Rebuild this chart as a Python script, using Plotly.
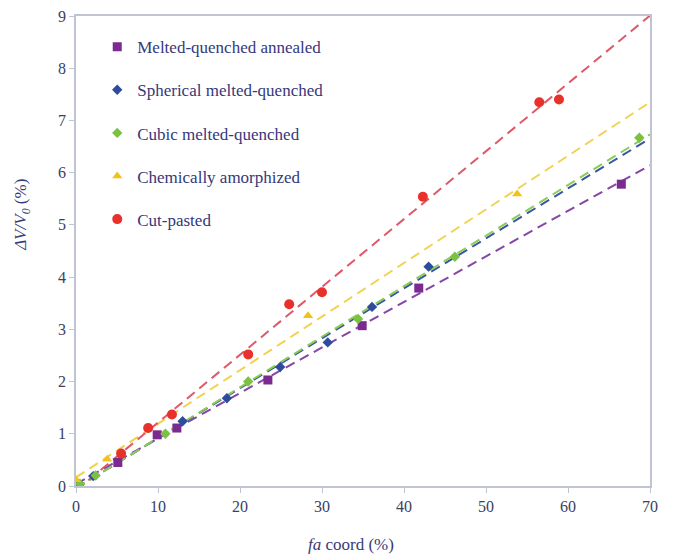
import numpy as np
import plotly.graph_objects as go

# ---- data ----
names = ["Melted-quenched annealed", "Spherical melted-quenched",
         "Cubic melted-quenched", "Chemically amorphized", "Cut-pasted"]

mqa_x = [0.3, 5.1, 9.9, 12.3, 23.4, 34.9, 41.8, 66.5]
mqa_y = [0.02, 0.45, 0.98, 1.11, 2.03, 3.07, 3.79, 5.78]

sph_x = [0.4, 2.1, 13.0, 18.4, 24.9, 30.7, 36.1, 43.0]
sph_y = [0.03, 0.19, 1.24, 1.68, 2.28, 2.75, 3.43, 4.20]

cub_x = [0.5, 2.4, 10.9, 21.0, 34.4, 46.2, 68.7]
cub_y = [0.04, 0.20, 1.00, 2.00, 3.20, 4.39, 6.67]

chem_x = [0.0, 3.8, 28.3, 53.8]
chem_y = [0.12, 0.51, 3.26, 5.59]

cut_x = [5.5, 8.8, 11.7, 21.0, 26.0, 30.0, 42.3, 56.5, 58.9]
cut_y = [0.62, 1.11, 1.37, 2.52, 3.48, 3.71, 5.54, 7.35, 7.40]

x_ticks = [0, 10, 20, 30, 40, 50, 60, 70]
y_ticks = [0, 1, 2, 3, 4, 5, 6, 7, 8, 9]

series = [
    (mqa_x, mqa_y, "square", "#7a2a90", "#8546a8", 9),
    (sph_x, sph_y, "diamond", "#2e4c9e", "#3a55a2", 8),
    (cub_x, cub_y, "diamond", "#7cc242", "#8ccb55", 8),
    (chem_x, chem_y, "triangle-up", "#f2c21a", "#f1d24e", 9),
    (cut_x, cut_y, "circle", "#e8312a", "#df5868", 10),
]

fig = go.Figure()
line_x = np.array([0.0, 70.0])
for i, (xs, ys, sym, mcol, lcol, msz) in enumerate(series):
    k, b = np.polyfit(xs, ys, 1)
    fig.add_trace(go.Scatter(x=line_x, y=k * line_x + b, mode="lines",
                             line=dict(color=lcol, width=2, dash="10px,6px"),
                             showlegend=False, hoverinfo="skip"))
for i, (xs, ys, sym, mcol, lcol, msz) in enumerate(series):
    fig.add_trace(go.Scatter(x=xs, y=ys, mode="markers", name=names[i],
                             legendgroup=f"g{i}",
                             marker=dict(symbol=sym, color=mcol, size=msz)))

serif = "Liberation Serif, Times New Roman, serif"
tick_font = dict(family=serif, size=16, color="#3c3e5e")
title_font = dict(family=serif, size=17, color="#383b78")

fig.update_layout(
    width=673, height=552,
    margin=dict(l=68, r=31, t=8, b=74),
    paper_bgcolor="white", plot_bgcolor="white",
    font=tick_font,
    showlegend=True,
    legend=dict(x=0.037, y=0.972, xanchor="left", yanchor="top",
                bgcolor="rgba(0,0,0,0)", traceorder="grouped",
                tracegroupgap=18,
                font=dict(family=serif, size=17, color="#35387a")),
    xaxis=dict(range=[0, 70], tickvals=x_ticks, showgrid=False, zeroline=False,
               showline=True, linecolor="#c0c4d2", linewidth=1.5, mirror=True,
               ticks="outside", ticklen=5, tickcolor="#c0c4d2",
               automargin=False, ticklabeloverflow="allow", tickfont=tick_font),
    yaxis=dict(range=[0, 9], tickvals=y_ticks, showgrid=False, zeroline=False,
               showline=True, linecolor="#c0c4d2", linewidth=1.5, mirror=True,
               ticks="outside", ticklen=5, tickcolor="#c0c4d2",
               automargin=False, ticklabeloverflow="allow", tickfont=tick_font),
    annotations=[
        dict(text="<i>fa</i> coord (%)", xref="paper", yref="paper",
             x=0.479, y=-0.1255, showarrow=False, font=title_font,
             xanchor="center", yanchor="middle"),
        dict(text="<i>ΔV/V<sub>0</sub></i> (%)", xref="paper", yref="paper",
             x=-0.094, y=0.577, showarrow=False, font=title_font, textangle=-90,
             xanchor="center", yanchor="middle"),
    ],
)
fig.write_html("out.html")
